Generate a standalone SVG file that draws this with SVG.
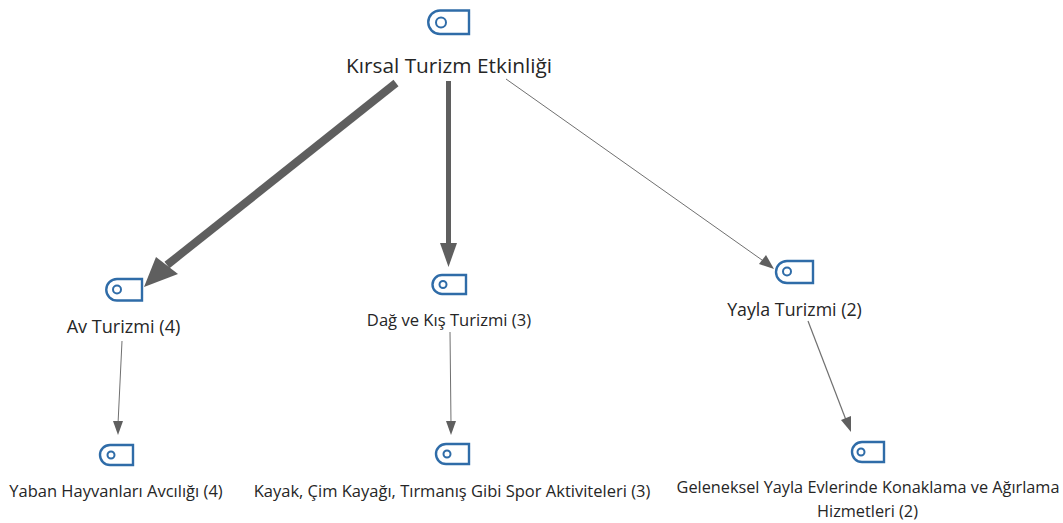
<svg xmlns="http://www.w3.org/2000/svg" width="1063" height="523" viewBox="0 0 1063 523">
<style>
text{font-family:"Open Sans","Noto Sans","DejaVu Sans",sans-serif;fill:#262626;text-anchor:middle}
.tag{fill:#fff;stroke:#2f6ca8;stroke-width:2.400}
.dot{fill:#fff;stroke:#2f6ca8;stroke-width:2}
.e{stroke:#5f5f5f;fill:none}
.t{stroke:#707070;fill:none}
.h{fill:#5f5f5f}
</style>
<rect width="1063" height="523" fill="#fff"/>
<g id="connectors">
<path class="e" stroke-width="8" d="M396 83L167 265"/><path class="h" d="M144 287L156 257L178 274Z"/>
<path class="e" stroke-width="5" d="M448.500 81V244"/><path class="h" d="M448.500 267L440 243H457Z"/>
<path class="t" stroke-width="1" d="M506 79L762 260"/><path class="h" d="M774 269L759 264L766 255Z"/>
<path class="t" stroke-width="1" d="M122 341L118 424"/><path class="h" d="M118 435L113 421H123Z"/>
<path class="t" stroke-width="1" d="M450 332L451 424"/><path class="h" d="M451 435L446 421H456Z"/>
<path class="t" stroke-width="1.200" d="M808 321L846 420"/><path class="h" d="M851 432L841 420L851 416Z"/>
</g>
<g id="node-root"><path class="tag" d="M469 10.500H440A11.750 11.750 0 0 0 440 34H469Z"/><circle class="dot" cx="441" cy="22.500" r="5"/><text font-size="20.800" x="449" y="73">Kırsal Turizm Etkinliği</text></g>
<g id="node-av"><path class="tag" d="M142 279H117A10.750 10.750 0 0 0 117 300.500H142Z"/><circle class="dot" cx="117" cy="289.500" r="4"/><text font-size="18.100" x="123.500" y="333">Av Turizmi (4)</text></g>
<g id="node-dag"><path class="tag" d="M466 275H442A9.500 9.500 0 0 0 442 294H466Z"/><circle class="dot" cx="443" cy="284.500" r="3.500"/><text font-size="16.600" x="449" y="326">Dağ ve Kış Turizmi (3)</text></g>
<g id="node-yayla"><path class="tag" d="M813 261H787A11 11 0 0 0 787 283H813Z"/><circle class="dot" cx="787" cy="271.500" r="4"/><text font-size="17.800" x="794.500" y="316">Yayla Turizmi (2)</text></g>
<g id="node-yaban"><path class="tag" d="M133 445H110A10 10 0 0 0 110 465H133Z"/><circle class="dot" cx="111" cy="455" r="3.500"/><text font-size="16.500" x="116" y="497">Yaban Hayvanları Avcılığı (4)</text></g>
<g id="node-kayak"><path class="tag" d="M469 444H446A10 10 0 0 0 446 464H469Z"/><circle class="dot" cx="447" cy="454" r="3.500"/><text font-size="16.500" x="452" y="497">Kayak, Çim Kayağı, Tırmanış Gibi Spor Aktiviteleri (3)</text></g>
<g id="node-geleneksel"><path class="tag" d="M884 442H862A10 10 0 0 0 862 462H884Z"/><circle class="dot" cx="861" cy="452" r="3.500"/><text font-size="16.300" x="868" y="493">Geleneksel Yayla Evlerinde Konaklama ve Ağırlama</text><text font-size="16.300" x="867.500" y="517">Hizmetleri (2)</text></g>
</svg>
